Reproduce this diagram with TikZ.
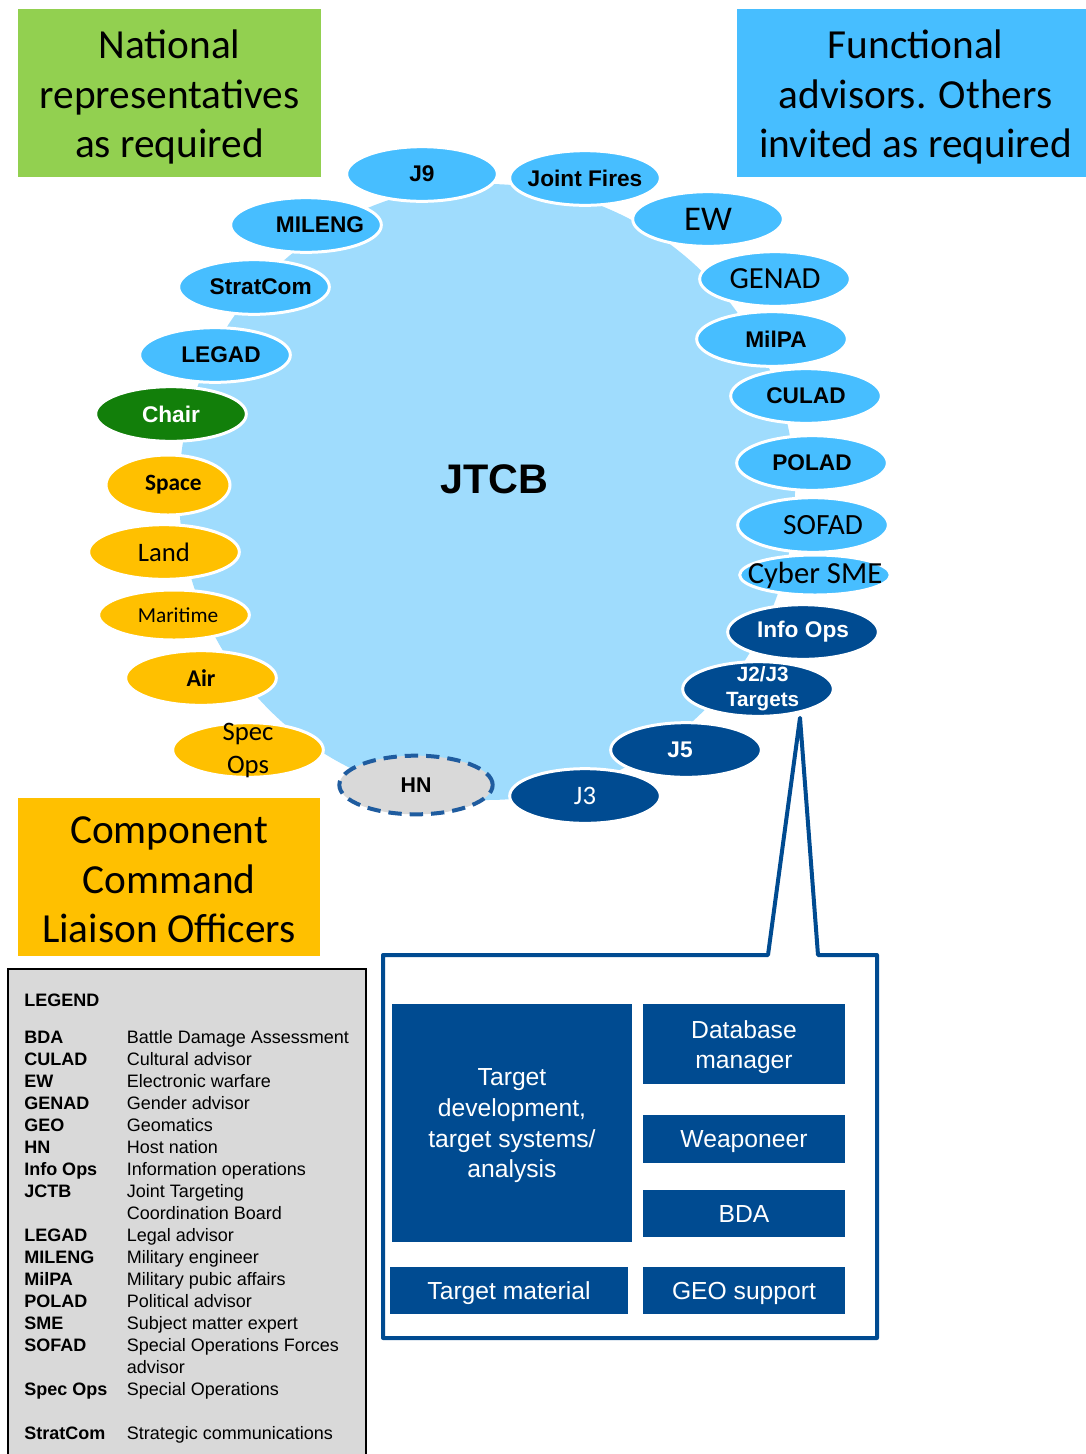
\documentclass[tikz,border=0pt]{standalone}
\usepackage{fontspec}
\setmainfont{Liberation Sans}
\newfontfamily\calibri{Carlito}
\usetikzlibrary{shapes}
\usetikzlibrary{positioning}
\definecolor{ltblue}{HTML}{47BEFF}
\definecolor{boardblue}{HTML}{9FDCFD}
\definecolor{natgreen}{HTML}{92D050}
\definecolor{orng}{HTML}{FFC000}
\definecolor{dkblue}{HTML}{004B91}
\definecolor{dkgreen}{HTML}{127F0A}
\definecolor{hngray}{HTML}{D9D9D9}
\definecolor{hnblue}{HTML}{1F5C9F}
\tikzset{
    board/.style = {circle, fill=boardblue, minimum size=462pt, inner sep=0pt},
    title/.style = {font=\fontsize{31}{37}\selectfont\bfseries},
    hdrtext/.style = {inner sep=0pt, align=center, font=\calibri\fontsize{31}{37}\selectfont},
    oval/.style = {ellipse, draw=white, line width=2.25pt, inner xsep=-16pt, inner ysep=-12pt, align=center, minimum width=113pt, minimum height=41pt},
    ovall/.style = {oval, fill=ltblue},
    ovalo/.style = {oval, fill=orng},
    ovald/.style = {oval, fill=dkblue, text=white},
    ovalg/.style = {oval, fill=dkgreen, text=white},
    ovalh/.style = {oval, fill=hngray, draw=hnblue, dash pattern=on 10pt off 6pt, line width=3pt, minimum width=115pt, minimum height=44pt},
    ab/.style = {font=\fontsize{17}{20}\selectfont\bfseries},
    cr/.style = {font=\calibri\fontsize{#1}{24.75}\selectfont},
    cb/.style = {font=\calibri\fontsize{#1}{24}\selectfont\bfseries},
    callout/.style = {draw=dkblue, line width=3pt, fill=white, line join=round},
    tbox/.style = {text=white, inner sep=0pt, align=center, font=\fontsize{18.5}{23}\selectfont},
    tline/.style = {tbox, fill=dkblue, text height=13.2pt, text depth=0pt},
    legendbox/.style = {draw=black, line width=1.5pt, fill=hngray}
}

\begin{document}
\begin{tikzpicture}[x=0.75pt,y=-0.75pt]
\useasboundingbox (0,0) rectangle (1086,1454);
% board
\node[board] at (487,492) (board) {};
\node[title] at (494,479) (jtcb) {JTCB};
% header boxes
\fill[natgreen] (18,9) rectangle (321,177);
\fill[ltblue] (737,9) rectangle (1086,177);
\fill[orng] (18,798) rectangle (320,956);
\node[hdrtext] at (169.5,97) (nat) {National\\representatives\\as required};
\node[hdrtext] at (915.5,97) (fun) {Functional\\advisors. Others\\invited as required};
\node[hdrtext] at (169,880) (com) {Component\\Command\\Liaison Officers};
% ring, top and right
\node[ovall, ab] at (422,174) (j9) {J9};
\node[ovall, ab] at (585,178) (jf) {Joint Fires};
\node[ovall, cr=26] at (708,219) (ew) {EW};
\node[ovall, cr=23] at (775,279) (genad) {GENAD};
\node[ovall, ab] at (772,339) (milpa) {\hspace*{6pt}MilPA};
\node[ovall, ab] at (806,396) (culad) {CULAD};
\node[ovall, ab] at (812,463) (polad) {POLAD};
\node[ovall, cr=22] at (813,525) (sofad) {\hspace*{15pt}SOFAD};
\node[ovall, cr=23, minimum height=30pt] at (815,575) (cyber) {Cyber SME};
\node[ovald, ab] at (803,632) (infoops) {Info Ops};
\node[ovald, font=\fontsize{15.5}{18.75}\selectfont\bfseries] at (758,689) (tgt) {\hspace*{7pt}J2/J3\\\hspace*{7pt}Targets};
\node[ovald, ab] at (686,750) (j5) {J5\hspace*{9pt}};
\node[ovald, cr=20] at (585,796) (j3) {J3};
\node[ovalh, font=\fontsize{16}{20}\selectfont\bfseries] at (416,785) (hn) {HN};
% ring, left
\node[ovall, ab] at (306,225) (mileng) {\hspace*{21pt}MILENG};
\node[ovall, ab] at (254,287) (stratcom) {\hspace*{10pt}StratCom};
\node[ovall, ab] at (215,355) (legad) {\hspace*{9pt}LEGAD};
\node[ovalg, ab] at (171,414) (chair) {Chair};
\node[ovalo, cb=17.5, minimum width=93pt, minimum height=45pt] at (168,485) (space) {\hspace*{8pt}Space};
\node[ovalo, cr=20] at (164,552) (land) {Land};
\node[ovalo, cr=16, minimum height=37.5pt] at (174,615) (maritime) {\hspace*{6pt}Maritime};
\node[ovalo, cb=18] at (201,678) (air) {Air};
\node[ovalo, cr=20] at (248,750) (specops) {Spec\\Ops};
% callout
\coordinate (tip) at ([xshift=31.5pt]tgt.south);
\draw[callout] (383,955) -- (768,955) -- (tip) -- (818,955) -- (877,955) -- (877,1338) -- (383,1338) -- cycle;
\fill[dkblue] (392,1004) rectangle (632,1242);
\node[tbox] at (512,1126) (tdev) {Target\\development,\\target systems/\\analysis};
\fill[dkblue] (643,1004) rectangle (845,1084);
\node[tbox] at (744,1047) (dbm) {Database\\manager};
\node[tline, minimum width=151.5pt, minimum height=36pt] at (744,1139) (weap) {Weaponeer};
\node[tline, minimum width=151.5pt, minimum height=35pt] at (744,1213.5) (bda) {BDA};
\node[tline, minimum width=178.5pt, minimum height=35pt] at (509,1290.5) (tmat) {Target material};
\node[tline, minimum width=151.5pt, minimum height=35pt] at (744,1290.5) (geo) {GEO support};
% legend
\draw[legendbox] (8,969) rectangle (366,1470);
\node[anchor=north west, inner sep=0pt, font=\fontsize{13.5}{16.5}\selectfont] at (24,990.8) (legend) {%
\begin{tabular}{@{}p{77pt}@{}l@{}}
\textbf{LEGEND} & \\[11.25pt]
\textbf{BDA} & Battle Damage Assessment\\
\textbf{CULAD} & Cultural advisor\\
\textbf{EW} & Electronic warfare\\
\textbf{GENAD} & Gender advisor\\
\textbf{GEO} & Geomatics\\
\textbf{HN} & Host nation\\
\textbf{Info Ops} & Information operations\\
\textbf{JCTB} & Joint Targeting\\
 & Coordination Board\\
\textbf{LEGAD} & Legal advisor\\
\textbf{MILENG} & Military engineer\\
\textbf{MilPA} & Military pubic affairs\\
\textbf{POLAD} & Political advisor\\
\textbf{SME} & Subject matter expert\\
\textbf{SOFAD} & Special Operations Forces\\
 & advisor\\
\textbf{Spec Ops} & Special Operations\\
 & \\
\textbf{StratCom} & Strategic communications
\end{tabular}};
\end{tikzpicture}
\end{document}
